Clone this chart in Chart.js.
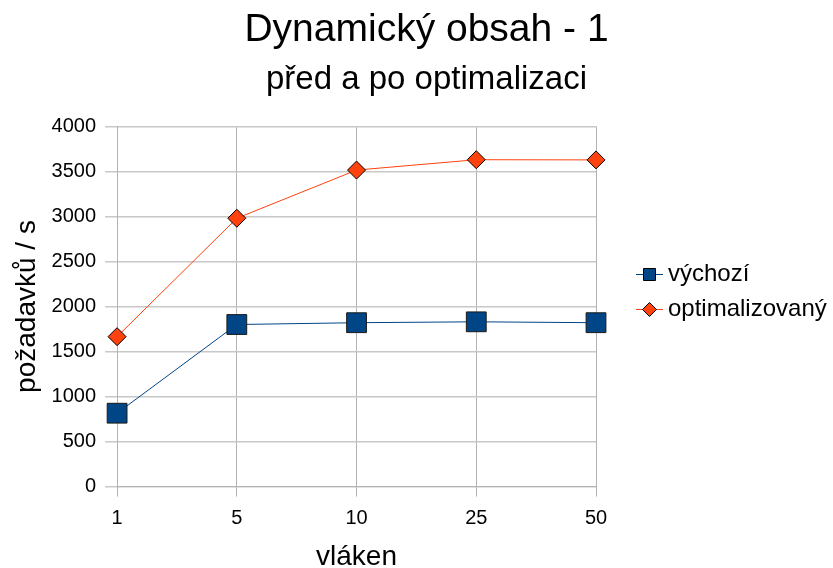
<!DOCTYPE html>
<html>
<head>
<meta charset="utf-8">
<script src="https://cdn.jsdelivr.net/npm/chart.js@4.4.0/dist/chart.umd.min.js"></script>
<style>
  html, body { margin: 0; padding: 0; background: #fff; }
</style>
</head>
<body>
<canvas id="chartObsah" width="833" height="568"></canvas>
<script>
// data
const vlakna = ['1', '5', '10', '25', '50']
const vychozi = [815, 1800, 1820, 1830, 1820]
const optimalizovany = [1665, 2980, 3515, 3630, 3628]

const modra = '#004586'
const oranzova = '#ff420e'

Chart.defaults.font.family = '"Liberation Sans", Arial, sans-serif'
Chart.defaults.color = '#000000'

// legend symbol: short line with the marker in the middle,
// drawn at the right end of a wider transparent canvas
function symbolLegendy(barva, tvar) {
  const c = document.createElement('canvas')
  c.width = 63
  c.height = 20
  const g = c.getContext('2d')
  g.strokeStyle = barva
  g.lineWidth = 1
  g.beginPath()
  g.moveTo(36, 10.5)
  g.lineTo(63, 10.5)
  g.stroke()
  g.fillStyle = barva
  g.strokeStyle = '#000000'
  g.beginPath()
  if (tvar === 'rect') {
    g.rect(43.5, 4.5, 12, 12)
  } else {
    g.moveTo(49.5, 3.5)
    g.lineTo(56.5, 10.5)
    g.lineTo(49.5, 17.5)
    g.lineTo(42.5, 10.5)
    g.closePath()
  }
  g.fill()
  g.stroke()
  return c
}

// legend sits a little lower than chart.js centres it
const posunLegendy = {
  id: 'posunLegendy',
  afterLayout(chart) {
    chart.legend.top += 4
    chart.legend.bottom += 4
  }
}

const ctx = document.getElementById('chartObsah')

var chartObsah = new Chart(ctx, {
  type: 'line',
  data: {
    labels: vlakna,
    datasets: [{
      label: 'výchozí',
      data: vychozi,
      borderColor: modra,
      borderWidth: 1,
      backgroundColor: modra,
      pointStyle: 'rect',
      pointRadius: 14,
      pointHoverRadius: 14,
      pointBorderColor: '#1a1a1a',
      pointBorderWidth: 1,
      tension: 0
    }, {
      label: 'optimalizovaný',
      data: optimalizovany,
      borderColor: oranzova,
      borderWidth: 1,
      backgroundColor: oranzova,
      pointStyle: 'rectRot',
      pointRadius: 9,
      pointHoverRadius: 9,
      pointBorderColor: '#000000',
      pointBorderWidth: 1,
      tension: 0
    }]
  },
  options: {
    responsive: false,
    animation: false,
    layout: {
      padding: { left: 20, right: 0, top: 7, bottom: 0 }
    },
    plugins: {
      title: {
        display: true,
        text: 'Dynamický obsah - 1',
        font: { size: 39, weight: 'normal' },
        padding: { top: 0, bottom: 6 }
      },
      subtitle: {
        display: true,
        text: 'před a po optimalizaci',
        font: { size: 33, weight: 'normal' },
        padding: { top: 0, bottom: 27 }
      },
      legend: {
        position: 'right',
        maxWidth: 237,
        labels: {
          usePointStyle: true,
          pointStyleWidth: 49,
          padding: 11,
          font: { size: 24 },
          generateLabels: (chart) => chart.data.datasets.map((ds, i) => ({
            text: ds.label,
            pointStyle: symbolLegendy(ds.borderColor, ds.pointStyle),
            fillStyle: ds.borderColor,
            strokeStyle: ds.borderColor,
            lineWidth: 0,
            hidden: false,
            datasetIndex: i
          }))
        }
      },
      tooltip: { enabled: false }
    },
    scales: {
      x: {
        offset: false,
        grid: {
          color: '#b3b3b3',
          lineWidth: 1,
          tickLength: 10
        },
        border: { color: '#b3b3b3' },
        ticks: { font: { size: 20 }, padding: 10 },
        title: {
          display: true,
          text: 'vláken',
          font: { size: 28, lineHeight: 0.8 },
          padding: { top: 5, bottom: 0 }
        }
      },
      y: {
        min: 0,
        max: 4000,
        grid: {
          color: '#c8c8c8',
          lineWidth: 1.5,
          tickLength: 12
        },
        border: { color: '#b3b3b3' },
        ticks: {
          stepSize: 500,
          font: { size: 20 },
          padding: 9,
          callback: (hodnota) => String(hodnota)
        },
        title: {
          display: true,
          text: 'požadavků / s',
          font: { size: 28 },
          padding: { top: -10, bottom: -1 }
        }
      }
    }
  },
  plugins: [posunLegendy]
})
</script>
</body>
</html>
